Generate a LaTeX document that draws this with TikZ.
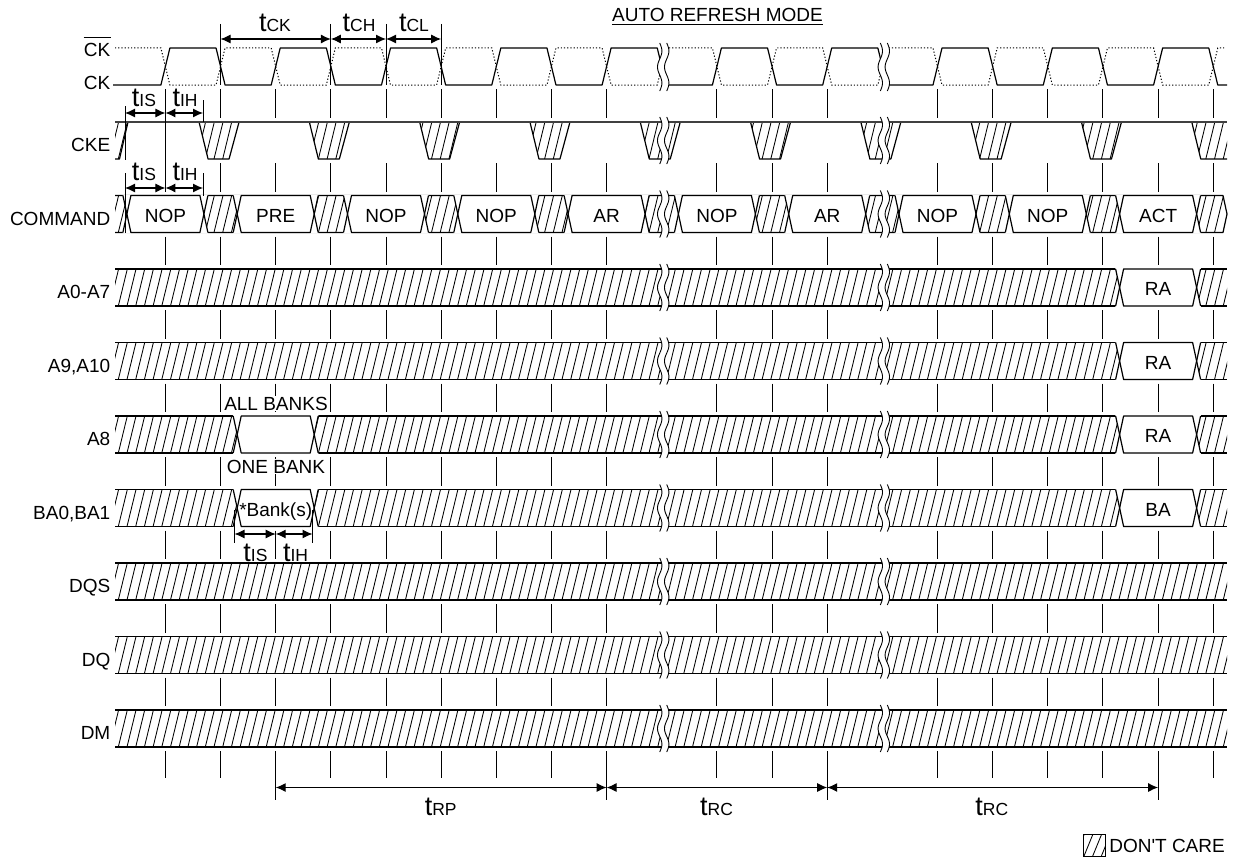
\documentclass[tikz,border=0pt]{standalone}
\usepackage{fontspec}
\setmainfont{Liberation Sans}
\usetikzlibrary{arrows.meta}
\newcommand\fs{\fontsize{19}{21}\selectfont}
\newcommand\tx[1]{165.4+55.15*(#1)}
\newcommand\tlab[1]{{\fontsize{27}{27}\selectfont t}{\fontsize{17.5}{17.5}\selectfont #1}}
\newcommand\ticklist{0,1,2,3,4,5,6,7,8,10,11,12,14,15,16,17,18,19}
\newcommand\hatchlines[2]{\foreach \hx in {40,48.7,...,1240} {\draw[hl] (\hx,#2) -- (\hx+9,#1);}}
\newcommand\datarow[1]{%
  \begin{scope}\clip (115,#1) rectangle (1227,#1+37); \hatchlines{#1}{#1+37}\end{scope}
  \draw[sig] (115,#1) -- (1227,#1);
  \draw[sig] (115,#1+37) -- (1227,#1+37);}
\newcommand\dbox[4]{%
  \pgfmathsetmacro\bxc{\tx{#1}}%
  \pgfmathsetmacro\bxv{\bxc-38.5}%
  \pgfmathsetmacro\bxw{\bxc+38.5}%
  \pgfmathsetmacro\bxm{#2+18.5}%
  \pgfmathsetmacro\bxb{#2+37}%
  \fill[white] (\bxv-4.3,#2-1) -- (\bxv,\bxm) -- (\bxv-4.3,\bxb+1) -- (\bxw+4.3,\bxb+1) -- (\bxw,\bxm) -- (\bxw+4.3,#2-1) -- cycle;
  \draw[sig] (\bxv-4,#2) -- (\bxv,\bxm) -- (\bxv-4,\bxb);
  \draw[sig] (\bxw+4,#2) -- (\bxw,\bxm) -- (\bxw+4,\bxb);
  \draw[sig] (\bxv,\bxm) -- (\bxv+4,#2) -- (\bxw-4,#2) -- (\bxw,\bxm) -- (\bxw-4,\bxb) -- (\bxv+4,\bxb) -- cycle;
  \node[txt] (#4) at (\bxc,\bxm+8) {#3};}
\newcommand\brk[3]{%
  \fill[white] plot[domain=0:1,samples=31,smooth] ({#1-3.5+2.2*sin(\x*540)},{(#2)+((#3)-(#2))*\x}) -- plot[domain=1:0,samples=31,smooth] ({#1+3.5+2.2*sin(\x*540)},{(#2)+((#3)-(#2))*\x}) -- cycle;
  \draw[line width=0.9pt] plot[domain=0:1,samples=31,smooth] ({#1-3.5+2.2*sin(\x*540)},{(#2)+((#3)-(#2))*\x});
  \draw[line width=0.9pt] plot[domain=0:1,samples=31,smooth] ({#1+3.5+2.2*sin(\x*540)},{(#2)+((#3)-(#2))*\x});}
\begin{document}
\begin{tikzpicture}[x=1pt,y=-1pt,
  sig/.style={line width=1.2pt,line join=round},
  hl/.style={line width=0.85pt},
  tk/.style={line width=1pt},
  dim/.style={line width=1.05pt,{Latex[length=10pt,width=9pt]}-{Latex[length=10pt,width=9pt]}},
  lab/.style={anchor=base east,inner sep=0pt,font=\fs},
  txt/.style={anchor=base,inner sep=0pt,font=\fs},
  tl/.style={anchor=base,inner sep=0pt}]
\useasboundingbox (0,0) rectangle (1238,859);

% title
\node[txt] (title) at (717.5,21.7) {AUTO REFRESH MODE};
\draw[line width=1pt] ([yshift=-2.5pt]title.south west) -- ([yshift=-2.5pt]title.south east);

% row labels
\node[lab] (lckb) at (110.5,56.7) {CK};
\draw[line width=1pt] ([yshift=5.5pt]lckb.north west) -- ([yshift=5.5pt]lckb.north east);
\node[lab] (lck) at (110.5,89) {CK};
\node[lab] (lcke) at (110.5,151.5) {CKE};
\node[lab] (lcmd) at (110.5,225) {COMMAND};
\node[lab] (la07) at (110.5,298.5) {A0-A7};
\node[lab] (la910) at (110.5,372) {A9,A10};
\node[lab] (la8) at (110.5,445.5) {A8};
\node[lab] (lba) at (110.5,519) {BA0,BA1};
\node[lab] (ldqs) at (110.5,592.5) {DQS};
\node[lab] (ldq) at (110.5,666) {DQ};
\node[lab] (ldm) at (110.5,739.5) {DM};

% data rows
\foreach \rt in {269,342.5,416,489.5,563,636.5,710} {\datarow{\rt}}

% command row
\begin{scope}\clip (115,195.5) -- (1223,195.5) -- (1227,214) -- (1223,232.5) -- (115,232.5) -- cycle; \hatchlines{195.5}{232.5}\end{scope}
\draw[sig] (115,195.5) -- (1223,195.5) -- (1227,214) -- (1223,232.5) -- (115,232.5);
\dbox{0}{195.5}{NOP}{c0}
\dbox{2}{195.5}{PRE}{c2}
\dbox{4}{195.5}{NOP}{c4}
\dbox{6}{195.5}{NOP}{c6}
\dbox{8}{195.5}{AR}{c8}
\dbox{10}{195.5}{NOP}{c10}
\dbox{12}{195.5}{AR}{c12}
\dbox{14}{195.5}{NOP}{c14}
\dbox{16}{195.5}{NOP}{c16}
\dbox{18}{195.5}{ACT}{c18}

% address boxes
\dbox{18}{269}{RA}{ra1}
\dbox{18}{342.5}{RA}{ra2}
\dbox{2}{416}{}{a8b}
\dbox{18}{416}{RA}{ra3}
\dbox{2}{489.5}{*Bank(s)}{bab}
\dbox{18}{489.5}{BA}{ba2}

% CKE row
\begin{scope}\clip (115,122) -- (128,122) -- (119.5,159) -- (115,159) -- cycle; \hatchlines{122}{159}\end{scope}
\draw[sig] (115,159) -- (119.5,159) -- (128,122);
\foreach \kk in {1,3,...,17} {
  \pgfmathsetmacro\tc{\tx{\kk}-1.5}
  \begin{scope}\clip (\tc-20,122) -- (\tc-11,159) -- (\tc+10,159) -- (\tc+20,122) -- cycle; \hatchlines{122}{159}\end{scope}
  \draw[sig] (\tc-20,122) -- (\tc-11,159) -- (\tc+10,159) -- (\tc+20,122);
}
\pgfmathsetmacro\tcl{\tx{19}-1.5}
\begin{scope}\clip (\tcl-20,122) -- (\tcl-11,159) -- (1227,159) -- (1227,122) -- cycle; \hatchlines{122}{159}\end{scope}
\draw[sig] (\tcl-20,122) -- (\tcl-11,159) -- (1227,159);
\draw[line width=1.8pt,black!75] (115,122) -- (1227,122);

% clock
\draw[sig] (113,85) \foreach \kk in {0,2,...,18} { -- ({\tx{\kk}-4.5},85) -- ({\tx{\kk}+4.5},48) -- ({\tx{\kk+1}-4.5},48) -- ({\tx{\kk+1}+4.5},85) } -- (1227,85);
\draw[line width=1pt,dash pattern=on 1.2pt off 2pt] (115,48) \foreach \kk in {0,2,...,18} { -- ({\tx{\kk}-4.5},48) -- ({\tx{\kk}+4.5},85) -- ({\tx{\kk+1}-4.5},85) -- ({\tx{\kk+1}+4.5},48) } -- (1225,48);

% breaks
\foreach \bb in {663.2,883.8} {
  \brk{\bb}{43}{91}
  \brk{\bb}{117}{164}
  \brk{\bb}{190.5}{237.5}
  \foreach \rt in {269,342.5,416,489.5,563,636.5,710} {\brk{\bb}{\rt-5}{\rt+42}}
}

% tick lines
\foreach \ya/\yb in {89/118,163/191.5,236.5/265,310/338.5,383.5/412,457/485.5,530.5/559,604/632.5,677.5/706,751/778} {
  \foreach \kk in \ticklist {\draw[tk] ({\tx{\kk}},\ya) -- ({\tx{\kk}},\yb);}
}
\draw[tk] ({\tx{0}},89) -- ({\tx{0}},192);
\foreach \kk in {1,3,4,5} {\draw[tk] ({\tx{\kk}},24) -- ({\tx{\kk}},85);}
\foreach \kk in {2,8,12,18} {\draw[tk] ({\tx{\kk}},751) -- ({\tx{\kk}},800);}

% tCK, tCH, tCL
\coordinate (ck1) at ({\tx{1}},39);
\coordinate (ck3) at ({\tx{3}},39);
\coordinate (ck4) at ({\tx{4}},39);
\coordinate (ck5) at ({\tx{5}},39);
\draw[dim] (ck1) -- (ck3);
\draw[dim] (ck3) -- (ck4);
\draw[dim] (ck4) -- (ck5);
\node[tl] (ltck) at (275,32) {\tlab{CK}};
\node[tl] (ltch) at (359,32) {\tlab{CH}};
\node[tl] (ltcl) at (414,32) {\tlab{CL}};

% tIS / tIH on CKE
\draw[tk] (125,106) -- (125,160);
\draw[tk] (203,100) -- (203,122);
\coordinate (is1a) at (125,113);
\coordinate (is1b) at ({\tx{0}},113);
\coordinate (is1c) at (203,113);
\draw[dim] (is1a) -- (is1b);
\draw[dim] (is1b) -- (is1c);
\node[tl] (lis1) at (144,106) {\tlab{IS}};
\node[tl] (lih1) at (185,106) {\tlab{IH}};

% tIS / tIH on COMMAND
\draw[tk] (125,173) -- (125,233);
\draw[tk] (203,173) -- (203,196);
\coordinate (is2a) at (125,188);
\coordinate (is2b) at ({\tx{0}},188);
\coordinate (is2c) at (203,188);
\draw[dim] (is2a) -- (is2b);
\draw[dim] (is2b) -- (is2c);
\node[tl] (lis2) at (144,180) {\tlab{IS}};
\node[tl] (lih2) at (185,180) {\tlab{IH}};

% tIS / tIH on BA
\draw[tk] (234.5,510) -- (234.5,543);
\draw[tk] (312.5,510) -- (312.5,543);
\coordinate (is3a) at (234.5,534);
\coordinate (is3b) at ({\tx{2}},534);
\coordinate (is3c) at (312.5,534);
\draw[dim] (is3a) -- (is3b);
\draw[dim] (is3b) -- (is3c);
\node[tl] (lis3) at (255.5,561) {\tlab{IS}};
\node[tl] (lih3) at (295.5,561) {\tlab{IH}};

% bank labels
\node[txt,fill=white,inner sep=1pt] (allb) at (276,410) {ALL BANKS};
\node[txt,fill=white,inner sep=1pt] (oneb) at (276,473) {ONE BANK};

% tRP, tRC
\coordinate (rp1) at ({\tx{2}},787.5);
\coordinate (rp2) at ({\tx{8}},787.5);
\coordinate (rc2) at ({\tx{12}},787.5);
\coordinate (rc3) at ({\tx{18}},787.5);
\draw[dim] (rp1) -- (rp2);
\draw[dim] (rp2) -- (rc2);
\draw[dim] (rc2) -- (rc3);
\node[tl] (ltrp) at (440.75,815) {\tlab{RP}};
\node[tl] (ltrc1) at (716.5,815) {\tlab{RC}};
\node[tl] (ltrc2) at (991.8,815) {\tlab{RC}};

% legend
\begin{scope}\clip (1083,834) rectangle (1105,856); \hatchlines{834}{856}\end{scope}
\draw[line width=1pt] (1083,834) rectangle (1105,856);
\node[txt,anchor=base east] (dc) at (1225,852) {DON\textquotesingle T CARE};
\end{tikzpicture}
\end{document}
